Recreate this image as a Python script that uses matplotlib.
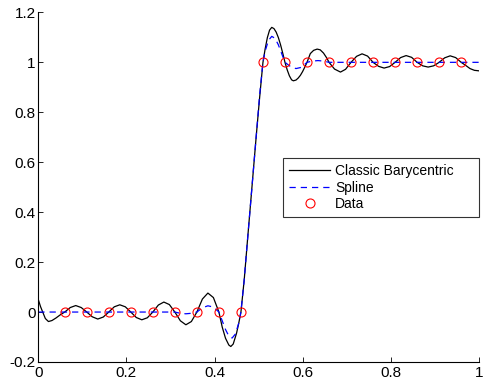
import matplotlib
matplotlib.use('Agg')
import matplotlib.pyplot as plt

plt.rcParams['font.family'] = ['Liberation Sans', 'DejaVu Sans']

# data nodes
x_data = [0.06, 0.11, 0.16, 0.21, 0.26, 0.31, 0.36, 0.41, 0.46,
          0.51, 0.56, 0.61, 0.66, 0.71, 0.76, 0.81, 0.86, 0.91, 0.96]
y_data = [0, 0, 0, 0, 0, 0, 0, 0, 0,
          1, 1, 1, 1, 1, 1, 1, 1, 1, 1]

# classic barycentric curve
x_bary = [0.000, 0.005, 0.010, 0.016, 0.023, 0.031, 0.040, 0.050, 0.060,
          0.0725, 0.085, 0.0975, 0.110,
          0.1225, 0.135, 0.1475, 0.160,
          0.1725, 0.185, 0.1975, 0.210,
          0.2225, 0.235, 0.2475, 0.260,
          0.2725, 0.285, 0.2975, 0.310,
          0.3225, 0.335, 0.3475, 0.360,
          0.3725, 0.385, 0.3975, 0.410,
          0.4175, 0.425, 0.4325, 0.437, 0.4425, 0.450, 0.455, 0.460,
          0.4675, 0.475, 0.485, 0.495, 0.5025, 0.510,
          0.515, 0.520, 0.525, 0.530, 0.535, 0.540, 0.545, 0.550, 0.555, 0.560,
          0.565, 0.570, 0.575, 0.579, 0.585, 0.590, 0.595, 0.600, 0.605, 0.610,
          0.6175, 0.625, 0.633, 0.640, 0.6475, 0.655, 0.660,
          0.6725, 0.686, 0.6975, 0.710,
          0.7225, 0.735, 0.7475, 0.760,
          0.7725, 0.785, 0.7975, 0.810,
          0.8225, 0.835, 0.8475, 0.860,
          0.8725, 0.885, 0.8975, 0.910,
          0.9225, 0.935, 0.9475, 0.960,
          0.970, 0.980, 0.990, 1.000]
y_bary = [0.050, 0.022, 0.000, -0.026, -0.038, -0.034, -0.024, -0.011, 0.0,
          0.018, 0.026, 0.018, 0.0,
          -0.019, -0.028, -0.020, 0.0,
          0.021, 0.029, 0.021, 0.0,
          -0.022, -0.031, -0.023, 0.0,
          0.028, 0.040, 0.030, 0.0,
          -0.035, -0.051, -0.038, 0.0,
          0.052, 0.076, 0.058, 0.0,
          -0.060, -0.105, -0.132, -0.138, -0.128, -0.085, -0.045, 0.0,
          0.13, 0.29, 0.50, 0.71, 0.86, 1.0,
          1.054, 1.099, 1.129, 1.140, 1.135, 1.121, 1.099, 1.070, 1.036, 1.0,
          0.970, 0.946, 0.930, 0.926, 0.929, 0.937, 0.948, 0.963, 0.981, 1.0,
          1.035, 1.048, 1.053, 1.050, 1.037, 1.017, 1.0,
          0.973, 0.961, 0.972, 1.0,
          1.024, 1.034, 1.025, 1.0,
          0.984, 0.977, 0.983, 1.0,
          1.019, 1.027, 1.020, 1.0,
          0.986, 0.981, 0.986, 1.0,
          1.018, 1.026, 1.019, 1.0,
          0.988, 0.975, 0.968, 0.966]

# spline curve
x_spl = [0.000, 0.310, 0.3225, 0.335, 0.3475, 0.360, 0.3725, 0.385, 0.3975, 0.410,
         0.4175, 0.425, 0.4325, 0.440, 0.4475, 0.455, 0.460,
         0.4675, 0.475, 0.485, 0.495, 0.5025, 0.510,
         0.515, 0.5225, 0.530, 0.5375, 0.545, 0.5525, 0.560,
         0.5725, 0.585, 0.5975, 0.610, 0.6225, 0.635, 0.6475, 0.660, 1.000]
y_spl = [0.0, 0.0, -0.005, -0.007, -0.005, 0.0, 0.017, 0.025, 0.020, 0.0,
         -0.035, -0.070, -0.096, -0.104, -0.088, -0.045, 0.0,
         0.13, 0.29, 0.50, 0.71, 0.87, 1.0,
         1.045, 1.088, 1.104, 1.096, 1.070, 1.035, 1.0,
         0.983, 0.975, 0.980, 1.0, 1.005, 1.007, 1.005, 1.0, 1.0]

x_ticks = [0, 0.2, 0.4, 0.6, 0.8, 1]
x_labels = ['0', '0.2', '0.4', '0.6', '0.8', '1']
y_ticks = [-0.2, 0, 0.2, 0.4, 0.6, 0.8, 1, 1.2]
y_labels = ['-0.2', '0', '0.2', '0.4', '0.6', '0.8', '1', '1.2']

fig = plt.figure(figsize=(4.83, 3.80), dpi=100)
ax = fig.add_axes([0.0793, 0.0474, 0.912, 0.920])

ax.plot(x_bary, y_bary, color='black', lw=0.9, label='Classic Barycentric')
ax.plot(x_spl, y_spl, color='blue', lw=0.9, dashes=(5, 4), label='Spline')
ax.plot(x_data, y_data, linestyle='none', marker='o', ms=6.5, mfc='none',
        mec='red', mew=0.8, label='Data')

ax.set_xlim(0, 1)
ax.set_ylim(-0.2, 1.2)
ax.set_xticks(x_ticks)
ax.set_xticklabels(x_labels)
ax.set_yticks(y_ticks)
ax.set_yticklabels(y_labels)
ax.tick_params(direction='in', length=3.5, width=0.6, labelsize=11)
ax.tick_params(axis='y', pad=2)
ax.tick_params(axis='x', pad=3)
ax.spines['top'].set_visible(False)
ax.spines['right'].set_visible(False)
for s in ['left', 'bottom']:
    ax.spines[s].set_linewidth(0.8)

# legend box stretched to the reference width
leg = ax.legend(loc='upper left', bbox_to_anchor=(0.556, 0.415, 0.445, 0.168),
                mode='expand', borderaxespad=0,
                fontsize=10, fancybox=False, frameon=True, handlelength=3.0,
                handletextpad=0.35, labelspacing=0.2, borderpad=0.4)
leg.get_frame().set_edgecolor('black')
leg.get_frame().set_linewidth(0.8)

fig.savefig('out.png', dpi=100)
